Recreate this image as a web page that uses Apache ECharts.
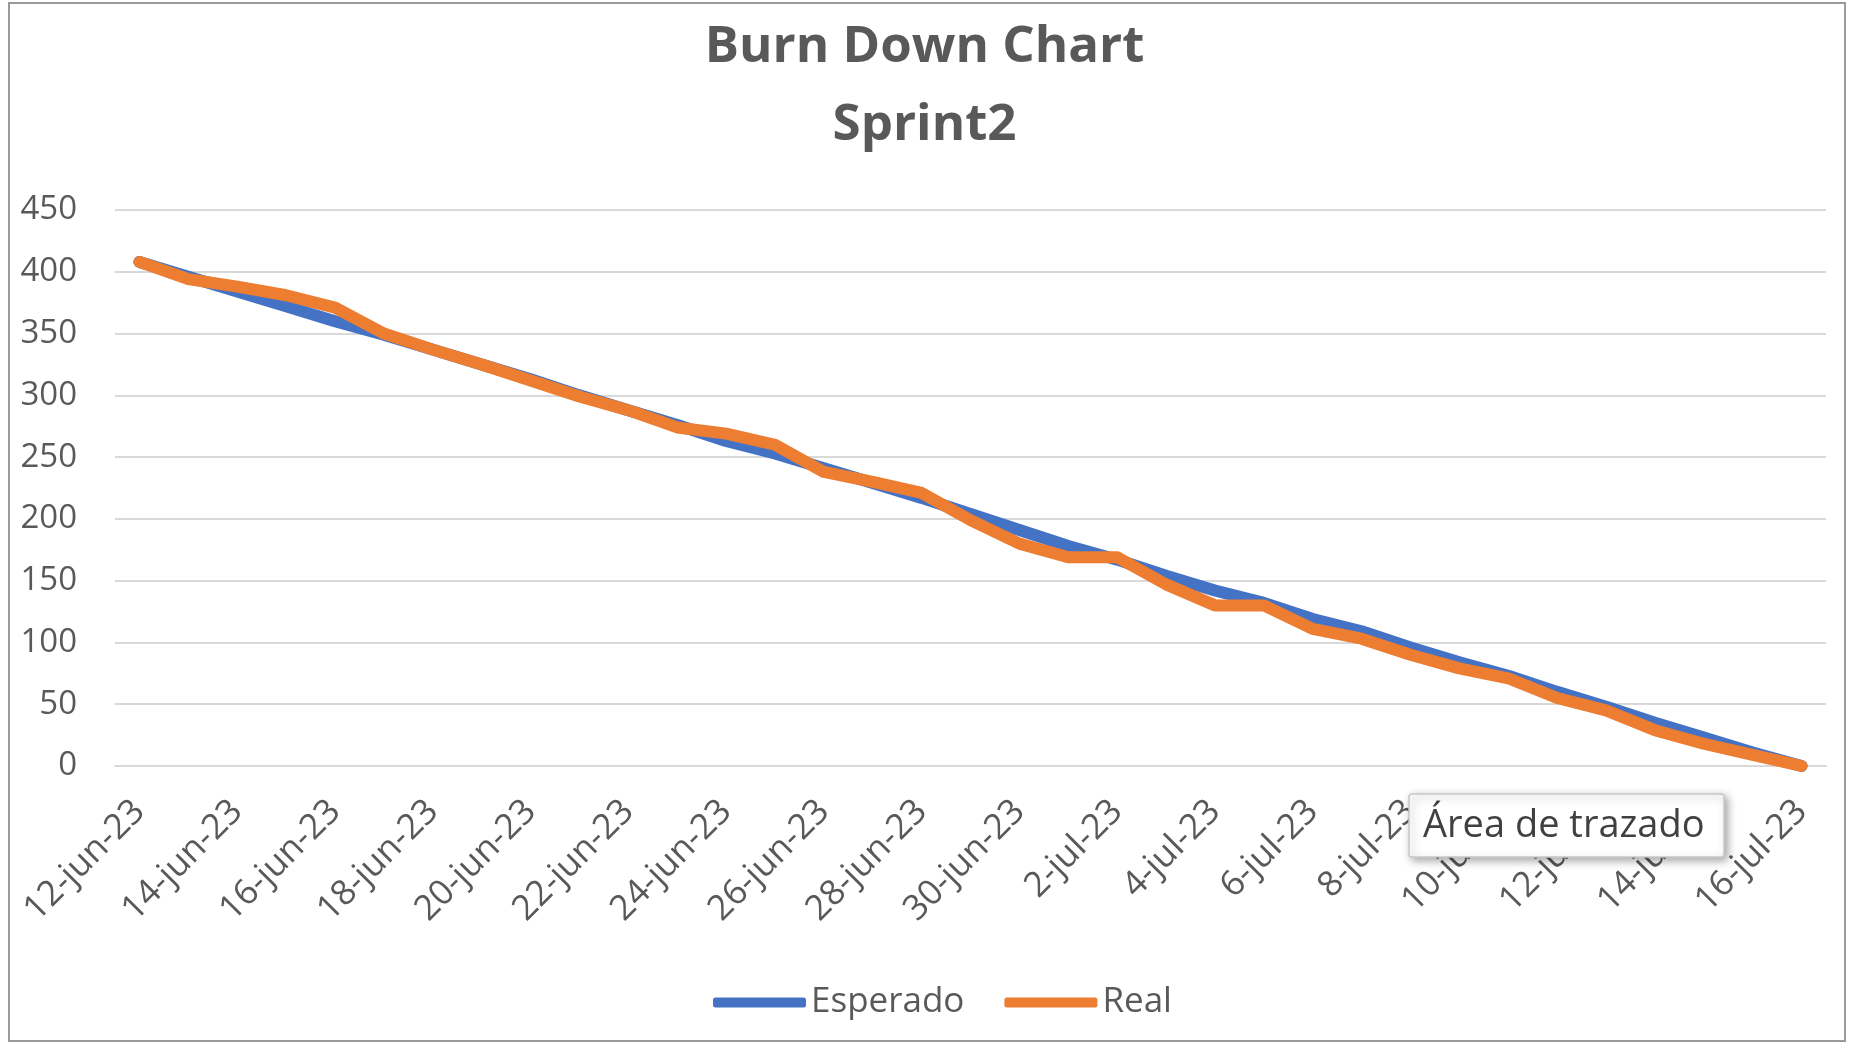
<!DOCTYPE html>
<html style="height: 100%">
<head>
    <meta charset="utf-8">
</head>
<body style="height: 100%; margin: 0; background: #fff">
<div id="container" style="width: 1849px; height: 1045px;"></div>

<script type="text/javascript" src="https://cdn.jsdelivr.net/npm/echarts@6/dist/echarts.min.js"></script>
<script type="text/javascript">
    // days of the sprint
    var dates = [
        '12-jun-23', '13-jun-23', '14-jun-23', '15-jun-23', '16-jun-23', '17-jun-23', '18-jun-23',
        '19-jun-23', '20-jun-23', '21-jun-23', '22-jun-23', '23-jun-23', '24-jun-23', '25-jun-23',
        '26-jun-23', '27-jun-23', '28-jun-23', '29-jun-23', '30-jun-23', '1-jul-23', '2-jul-23',
        '3-jul-23', '4-jul-23', '5-jul-23', '6-jul-23', '7-jul-23', '8-jul-23', '9-jul-23',
        '10-jul-23', '11-jul-23', '12-jul-23', '13-jul-23', '14-jul-23', '15-jul-23', '16-jul-23'
    ];
    var esperado = [
        408, 396, 384, 372, 360, 349, 337, 325, 313, 300, 288, 276, 263, 253, 241, 229, 217, 204,
        191, 178, 167, 154, 142, 132, 119, 109, 96, 84, 73, 60, 48, 35, 23, 11, 0
    ];
    var real = [
        408, 394, 388, 381, 371, 350, 337, 325, 312, 299, 288, 274, 269, 260, 238, 230, 221, 199,
        180, 169, 169, 147, 130, 130, 111, 103, 90, 79, 71, 55, 45, 29, 18, 9, 0
    ];
    var yTicks = [0, 50, 100, 150, 200, 250, 300, 350, 400, 450];

    var dom = document.getElementById("container");
    var myChart = echarts.init(dom);
    var font = 'Open Sans';
    var grey = '#595959';

    var option = {
        backgroundColor: '#fff',
        animation: false,
        title: {
            text: 'Burn Down Chart\nSprint2',
            left: 'center',
            top: 8,
            padding: 0,
            textStyle: {
                fontFamily: font,
                fontSize: 51,
                fontWeight: 'bold',
                lineHeight: 78,
                color: grey
            }
        },
        legend: {
            bottom: 20,
            left: 708,
            icon: 'roundRect',
            itemWidth: 93,
            itemHeight: 10,
            itemGap: 40,
            textStyle: {fontFamily: font, fontSize: 35, color: grey},
            data: ['Esperado', 'Real']
        },
        grid: {
            left: 115,
            right: 23,
            top: 210,
            bottom: 279,
            outerBoundsMode: 'none'
        },
        xAxis: {
            type: 'category',
            data: dates,
            boundaryGap: true,
            axisLine: {lineStyle: {color: '#d9d9d9', width: 2}},
            axisTick: {interval: 1, length: 12, lineStyle: {color: '#d9d9d9', width: 2}},
            axisLabel: {
                interval: 1,
                rotate: 45,
                margin: 40,
                fontFamily: font,
                fontSize: 35,
                color: grey
            }
        },
        yAxis: {
            type: 'value',
            min: yTicks[0],
            max: yTicks[yTicks.length - 1],
            interval: 50,
            axisLine: {show: false},
            axisTick: {show: false},
            axisLabel: {margin: 38, fontFamily: font, fontSize: 33, color: grey},
            splitLine: {lineStyle: {color: '#d9d9d9', width: 2}}
        },
        series: [
            {
                name: 'Esperado',
                type: 'line',
                data: esperado,
                showSymbol: false,
                color: '#4472c4',
                lineStyle: {width: 12, cap: 'round', join: 'round'}
            },
            {
                name: 'Real',
                type: 'line',
                data: real,
                showSymbol: false,
                color: '#ed7d31',
                lineStyle: {width: 12, cap: 'round', join: 'round'}
            }
        ],
        graphic: [
            {
                type: 'rect',
                shape: {x: 9, y: 3, width: 1836, height: 1038},
                style: {fill: null, stroke: '#9a9a9a', lineWidth: 2},
                silent: true
            },
            {
                type: 'rect',
                z: 100,
                shape: {x: 1409, y: 794, width: 315, height: 63, r: 3},
                style: {
                    fill: '#fff', stroke: '#c8c8c8', lineWidth: 1.5,
                    shadowBlur: 8, shadowOffsetX: 3, shadowOffsetY: 3, shadowColor: 'rgba(0,0,0,0.35)'
                }
            },
            {
                type: 'text',
                z: 101,
                x: 1423,
                y: 826,
                style: {
                    text: 'Área de trazado',
                    font: '38px "Open Sans"',
                    fill: '#404040',
                    verticalAlign: 'middle'
                }
            }
        ]
    };

    myChart.setOption(option);
</script>
</body>
</html>
